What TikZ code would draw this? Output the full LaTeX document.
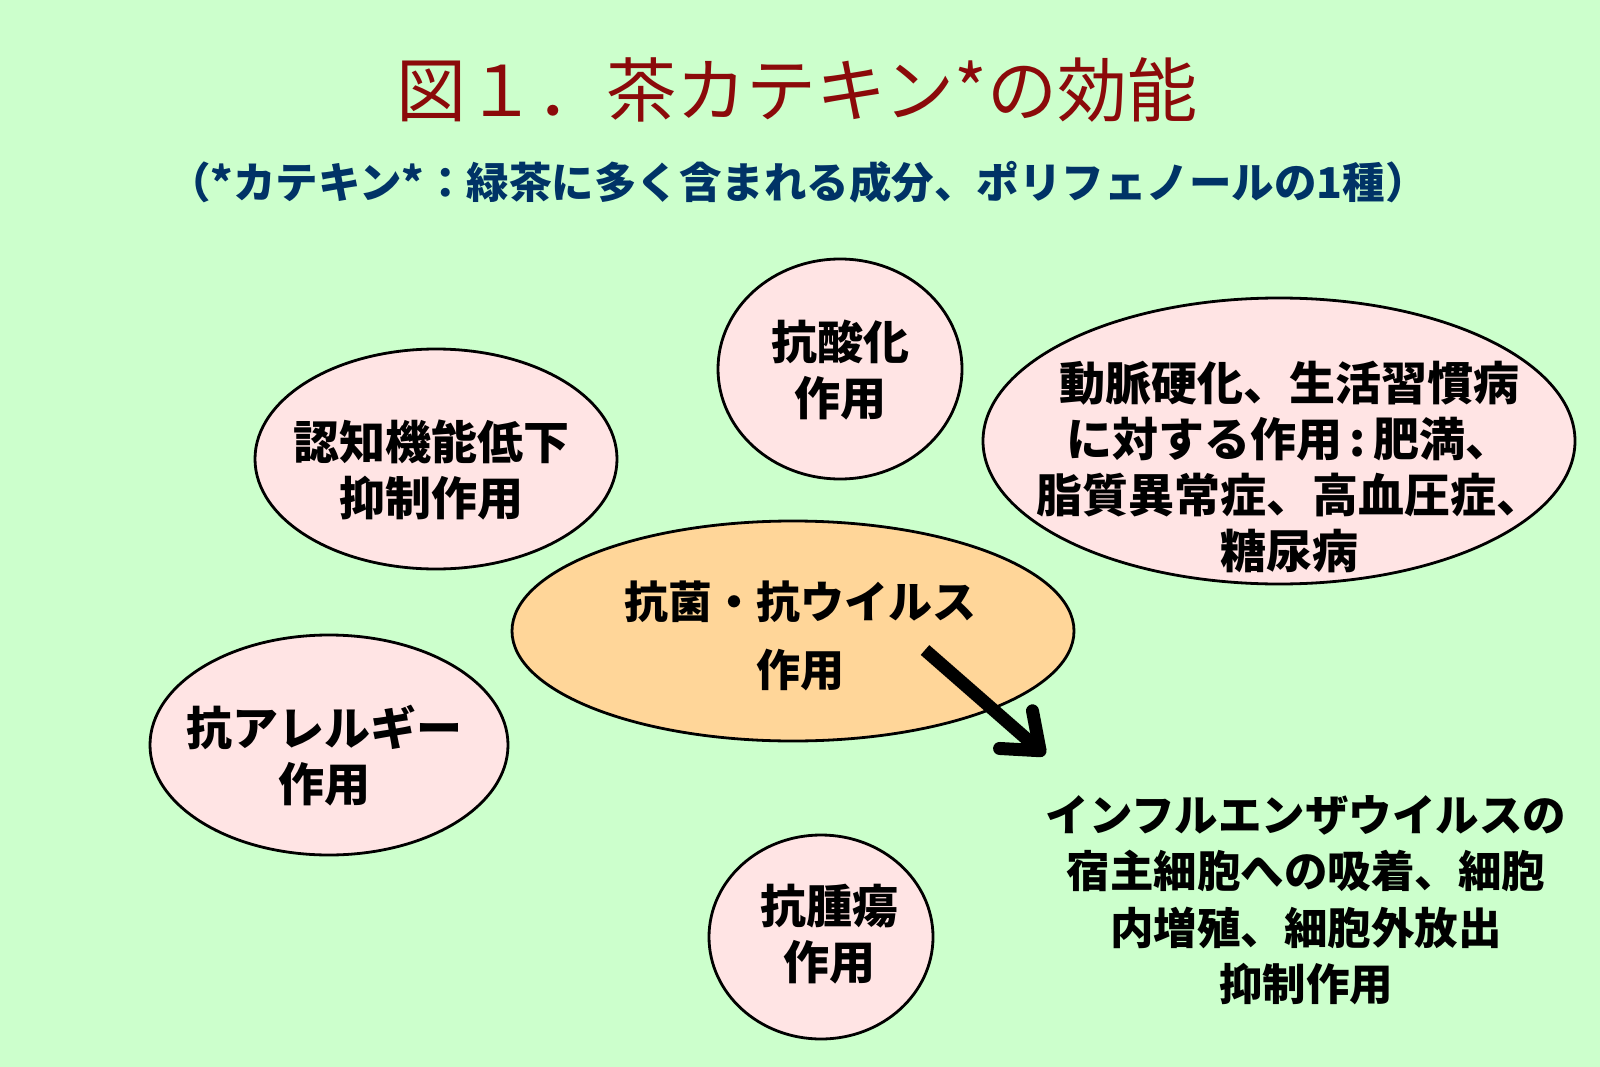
\documentclass[tikz,border=0pt]{standalone}
\usepackage{fontspec}
\newfontfamily\jp{Noto Sans CJK JP}
\usetikzlibrary{shapes.geometric,arrows.meta}
\definecolor{bg}{HTML}{CCFFCC}
\definecolor{pinkfill}{HTML}{FFE4E4}
\definecolor{orangefill}{HTML}{FFD699}
\definecolor{titlered}{HTML}{8B0A0A}
\definecolor{subblue}{HTML}{003366}
\begin{document}
\begin{tikzpicture}[x=1pt,y=-1pt,
  oval/.style={ellipse, draw=black, line width=2.8pt, fill=pinkfill, inner sep=0pt},
  lbl/.style={align=center, inner sep=0pt, font=\jp\bfseries\fontsize{46}{56}\selectfont},
  arrowline/.style={line width=13pt, -{Straight Barb[round,length=32pt,width=50pt]}}]
\fill[bg] (0,0) rectangle (1600,1067);
\useasboundingbox (0,0) rectangle (1600,1067);

% title and subtitle
\node[inner sep=0pt, text=titlered, font=\jp\fontsize{70}{80}\selectfont] (title) at (797,90) {図１．茶カテキン*の効能};
\node[inner sep=0pt, text=subblue, font=\jp\bfseries\fontsize{42.5}{48}\selectfont] (sub) at (798,182) {（*カテキン*：緑茶に多く含まれる成分、ポリフェノールの1種）};

% ellipses
\node[oval, minimum width=244pt, minimum height=220pt] (e1) at (840,369) {};
\node[oval, minimum width=362pt, minimum height=220pt] (e2) at (436,459) {};
\node[oval, minimum width=592pt, minimum height=286pt] (e3) at (1279,441) {};
\node[oval, fill=orangefill, minimum width=562pt, minimum height=220pt] (e4) at (793,631) {};
\node[oval, minimum width=358pt, minimum height=220pt] (e5) at (329,745) {};
\node[oval, minimum width=224pt, minimum height=204pt] (e6) at (821,937) {};

% labels
\node[lbl] (t1) at (840,370) {抗酸化\\作用};
\node[lbl] (t2) at (431,470) {認知機能低下\\抑制作用};
\node[lbl] (t3) at (1289,467) {動脈硬化、生活習慣病\\に対する作用\,:\,肥満、\\脂質異常症、高血圧症、\\糖尿病};
\node[lbl, font=\jp\bfseries\fontsize{44}{68}\selectfont] (t4) at (800,636) {抗菌・抗ウイルス\\作用};
\node[lbl] (t5) at (324,756) {抗アレルギー\\作用};
\node[lbl] (t6) at (829,934) {抗腫瘍\\作用};
\node[lbl, font=\jp\bfseries\fontsize{43.5}{56.5}\selectfont] (t7) at (1306,900) {インフルエンザウイルスの\\宿主細胞への吸着、細胞\\内増殖、細胞外放出\\抑制作用};

% arrow
\coordinate (as) at (925,650);
\coordinate (ae) at (1045,755);
\draw[arrowline] (as) -- (ae);
\end{tikzpicture}
\end{document}
